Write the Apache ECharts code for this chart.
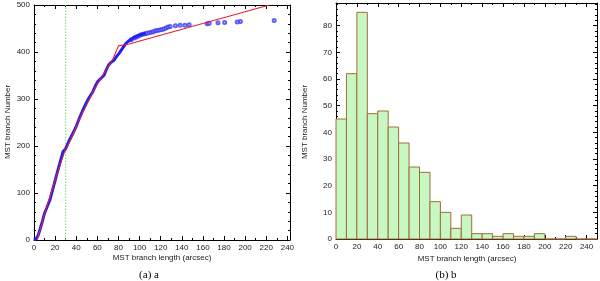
<!DOCTYPE html>
<html><head><meta charset="utf-8">
<script src="https://cdn.jsdelivr.net/npm/echarts@6/dist/echarts.min.js"></script>
<style>html,body{margin:0;padding:0;background:#fff}#c{width:600px;height:281px}</style>
</head><body><div id="c"></div>
<script>
// ---- Data ----
// Panel (a): cumulative MST branch lengths (arcsec) vs branch number
var denseCurve = [[0,0],[2,3],[4,10],[6,25],[8,40],[10,57],[12,68],[15,85],[18,110],[21,135],[24,160],[27.5,188],[29.7,193],[33,210],[36.9,227],[40,242],[43,259],[46,275],[49.4,291],[52,302],[55.6,315],[58,327],[60.3,337],[63,343],[66.5,351],[68,360],[70.6,372],[73,378],[76,383],[78,390],[80.6,397],[83,405],[86.9,418],[90,424],[94.7,431],[100,436],[105.6,440]];
var tailPoints = [[92,426],[95,430],[97,432],[99,434],[101,436],[103,438],[105,439],[107,440],[109,441],[111,442],[113,443],[115,445],[117,446],[119,447],[121,448],[123,449],[125,451],[127,453],[129,454],[134,456],[138.5,457],[143,457],[147,458],[164,460],[166,461],[174.3,462],[180.6,463],[192.5,464],[195.5,465],[227.5,467]];
var fitLine = [[3,0],[10,55],[20,128],[29,188],[35,215],[45,266],[55,311],[62,340],[70,368],[75,386],[80,413],[90,417],[223,500]];
var cutLength = [[30,0],[30,500]];
// Panel (b): histogram of branch lengths, bins [start, end]
var binStart = [0,10,20,30,40,50,60,70,80,90,100,110,120,130,140,150,160,170,180,190,200,210,220,230,240];
var binEnd   = [10,20,30,40,50,60,70,80,90,100,110,120,130,140,150,160,170,180,190,200,210,220,230,240,250];
var binCount = [45,62,85,47,48,42,36,27,25,14,10,4,9,2,2,1,2,1,1,2,0,0,1,0,0];
var xTitle = 'MST branch length (arcsec)';
var yTitle = 'MST branch Number';

var FONT = 'Liberation Sans';
var chart = echarts.init(document.getElementById('c'), null, {renderer:'canvas'});

function mkX(grid, max, pos, labels, fmtStep) {
  return {
    type:'value', gridIndex:grid, min:0, max:max, interval:20, position:pos,
    axisLine:{show:true, onZero:false, lineStyle:{color:'#000', width:1}},
    axisTick:{show:true, inside:true, length:4, lineStyle:{color:'#000'}},
    minorTick:{show:true, splitNumber:2, length:2, lineStyle:{color:'#000'}},
    splitLine:{show:false},
    axisLabel:{show:labels, margin:4, fontSize:8, fontFamily:FONT, color:'#222',
      formatter:function(v){return (Math.abs(v%fmtStep)<1e-6)?String(v):'';}}
  };
}
function mkY(grid, max, interval, minorSplit, pos, labels) {
  return {
    type:'value', gridIndex:grid, min:0, max:max, interval:interval, position:pos,
    axisLine:{show:true, onZero:false, lineStyle:{color:'#000', width:1}},
    axisTick:{show:true, inside:true, length:4, lineStyle:{color:'#000'}},
    minorTick:{show:true, splitNumber:minorSplit, length:2, lineStyle:{color:'#000'}},
    splitLine:{show:false},
    axisLabel:{show:labels, margin:4, fontSize:8, fontFamily:FONT, color:'#222',
      formatter:function(v){return (Math.abs(v%interval)<1e-6)?String(v):'';}}
  };
}

var histData = binStart.map(function(s,i){return [s, binEnd[i], binCount[i]];});

var option = {
  animation:false,
  grid:[
    {left:34, top:5, width:256, height:235},
    {left:336, top:3, width:262, height:236}
  ],
  xAxis:[
    mkX(0, 242.5, 'bottom', true, 20),
    mkX(0, 242.5, 'top', false, 20),
    mkX(1, 250, 'bottom', true, 20),
    mkX(1, 250, 'top', false, 20)
  ],
  yAxis:[
    mkY(0, 500, 100, 5, 'left', true),
    mkY(0, 500, 100, 5, 'right', false),
    mkY(1, 88.5, 10, 5, 'left', true),
    mkY(1, 88.5, 10, 5, 'right', false)
  ],
  series:[
    {type:'line', xAxisIndex:0, yAxisIndex:0, data:cutLength, symbol:'none',
     lineStyle:{color:'#6fdc6f', width:1, type:[1.5,1.5]}},
    {type:'line', xAxisIndex:0, yAxisIndex:0, data:denseCurve, symbol:'none',
     lineStyle:{color:'#2222ee', width:3}},
    {type:'scatter', xAxisIndex:0, yAxisIndex:0, data:tailPoints, symbol:'emptyCircle', symbolSize:3,
     itemStyle:{color:'#3a3af0', borderColor:'#3a3af0', borderWidth:0.6}},
    {type:'line', xAxisIndex:0, yAxisIndex:0, data:fitLine, symbol:'none',
     lineStyle:{color:'#e52030', width:1.1}},
    {type:'custom', xAxisIndex:2, yAxisIndex:2, data:histData,
     renderItem:function(params, api){
       var p0 = api.coord([api.value(0), api.value(2)]);
       var p1 = api.coord([api.value(1), 0]);
       return {type:'rect', shape:{x:p0[0], y:p0[1], width:p1[0]-p0[0], height:p1[1]-p0[1]},
         style:{fill:'#c8f8c2', stroke:'#a46a3c', lineWidth:1}};
     }}
  ],
  graphic:[
    {type:'text', position:[8,122], rotation:Math.PI/2, style:{text:yTitle, font:'8px '+FONT, fill:'#222', textAlign:'center', textVerticalAlign:'middle'}},
    {type:'text', position:[305,122], rotation:Math.PI/2, style:{text:yTitle, font:'8px '+FONT, fill:'#222', textAlign:'center', textVerticalAlign:'middle'}},
    {type:'text', position:[162,258], style:{text:xTitle, font:'8px '+FONT, fill:'#222', textAlign:'center', textVerticalAlign:'middle'}},
    {type:'text', position:[467,259], style:{text:xTitle, font:'8px '+FONT, fill:'#222', textAlign:'center', textVerticalAlign:'middle'}},
    {type:'text', position:[149,275], style:{text:'(a) a', font:'11px "Liberation Serif"', fill:'#000', textAlign:'center', textVerticalAlign:'middle'}},
    {type:'text', position:[446,275], style:{text:'(b) b', font:'11px "Liberation Serif"', fill:'#000', textAlign:'center', textVerticalAlign:'middle'}}
  ]
};
chart.setOption(option);
</script>
</body></html>
